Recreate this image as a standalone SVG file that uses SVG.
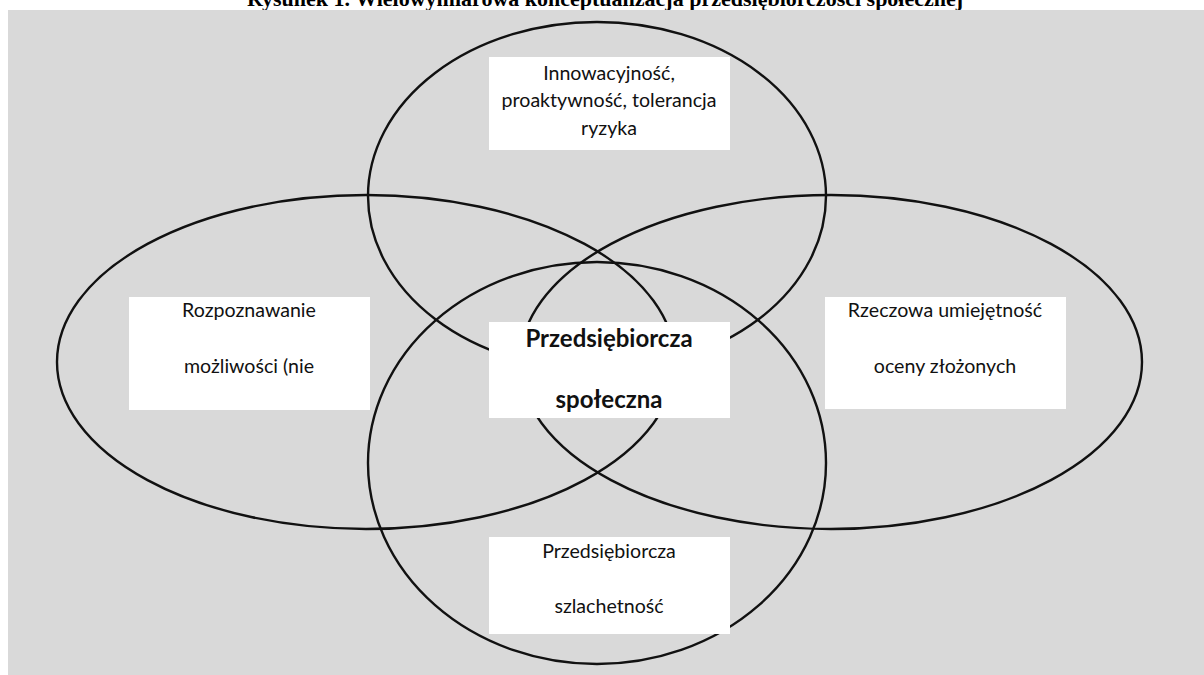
<svg xmlns="http://www.w3.org/2000/svg" width="1204" height="675" viewBox="0 0 1204 675">
<style>
.ell{fill:none;stroke:#111;stroke-width:2.4}
.box{fill:#ffffff}
.t{font-family:Lato,"Open Sans","Liberation Sans",sans-serif;font-size:19.6px;fill:#111;text-anchor:middle}
.tb{font-family:Lato,"Open Sans","Liberation Sans",sans-serif;font-size:24px;font-weight:bold;fill:#111;text-anchor:middle}
.title{font-family:"Liberation Serif","Times New Roman",serif;font-size:22px;font-weight:bold;fill:#000;text-anchor:middle}
</style>
<rect x="0" y="0" width="1204" height="675" fill="#ffffff"/>
<text class="title" x="605" y="6">Rysunek 1. Wielowymiarowa konceptualizacja przedsiębiorczości społecznej</text>
<rect x="8" y="10" width="1196" height="665" fill="#d9d9d9"/>
<g id="ellipses">
<ellipse class="ell" cx="597" cy="196" rx="229" ry="174"/>
<ellipse class="ell" cx="366" cy="362" rx="309" ry="167"/>
<ellipse class="ell" cx="831" cy="362" rx="311" ry="167"/>
<ellipse class="ell" cx="597" cy="463" rx="229" ry="201"/>
</g>
<g id="top">
<rect class="box" x="489" y="57" width="241" height="93"/>
<text class="t" x="609" y="80">Innowacyjność,</text>
<text class="t" x="609" y="107">proaktywność, tolerancja</text>
<text class="t" x="609" y="135">ryzyka</text>
</g>
<g id="left">
<rect class="box" x="129" y="297" width="241" height="113"/>
<text class="t" x="249" y="317">Rozpoznawanie</text>
<text class="t" x="249" y="373">możliwości (nie</text>
</g>
<g id="right">
<rect class="box" x="825" y="297" width="241" height="112"/>
<text class="t" x="945" y="317">Rzeczowa umiejętność</text>
<text class="t" x="945" y="373">oceny złożonych</text>
</g>
<g id="center">
<rect class="box" x="489" y="322" width="241" height="96"/>
<text class="tb" x="609" y="347">Przedsiębiorcza</text>
<text class="tb" x="609" y="408">społeczna</text>
</g>
<g id="bottom">
<rect class="box" x="489" y="537" width="241" height="97"/>
<text class="t" x="609" y="558">Przedsiębiorcza</text>
<text class="t" x="609" y="613">szlachetność</text>
</g>
</svg>
